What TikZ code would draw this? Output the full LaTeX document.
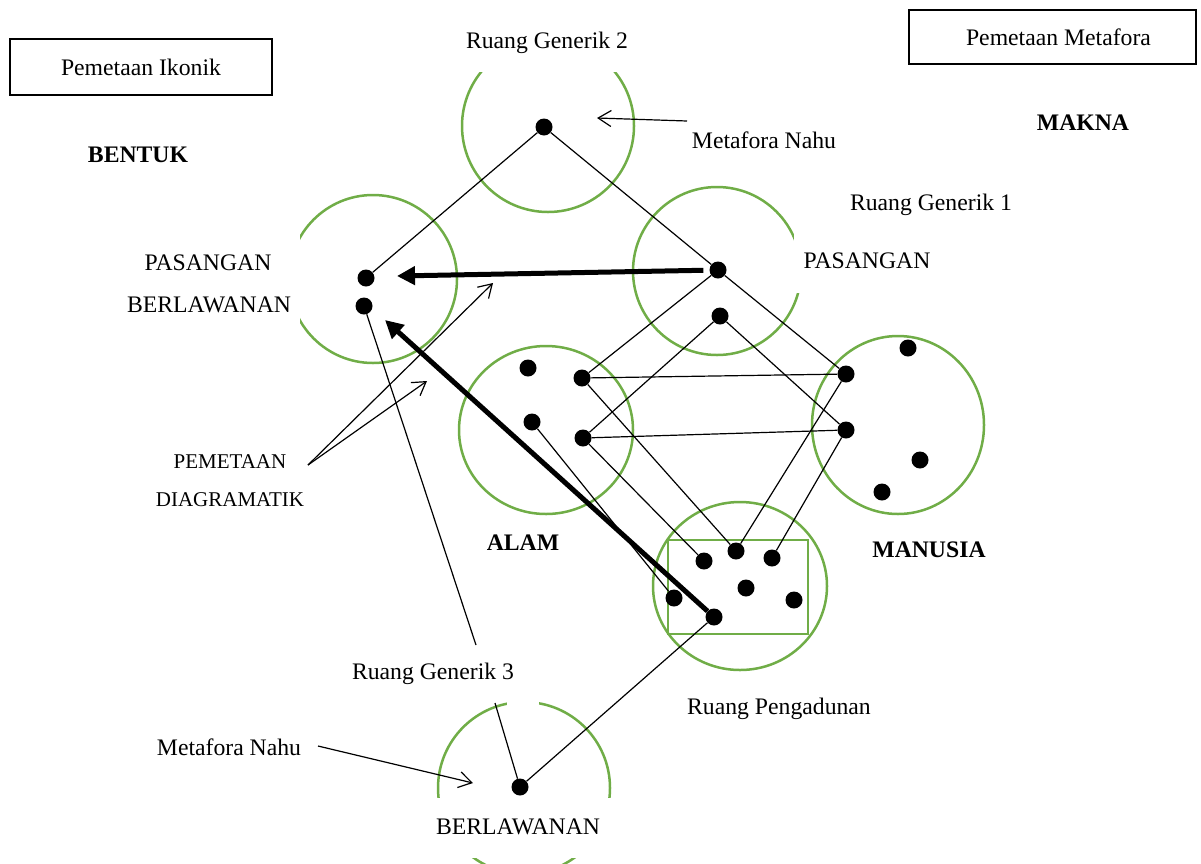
\documentclass[tikz,border=0pt]{standalone}
\usepackage{fontspec}
\setmainfont{Liberation Serif}
\usetikzlibrary{arrows.meta}
\definecolor{ringgreen}{HTML}{70AD47}
\begin{document}
\begin{tikzpicture}[x=1pt,y=-1pt,
  every node/.style={font=\fontsize{23.7}{28}\selectfont, inner sep=0pt},
  smalltxt/.style={font=\fontsize{21}{25}\selectfont},
  lbl/.style={anchor=base},
  boldlbl/.style={anchor=base, font=\fontsize{23.7}{28}\selectfont\bfseries},
  dot/.style={circle, fill=black, inner sep=0pt, minimum size=17pt},
  ring/.style={draw=ringgreen, line width=2.5pt},
  mask/.style={fill=white, draw=none},
  conn/.style={line width=1.2pt},
  bigarrow/.style={line width=5pt, -{Triangle[length=18pt,width=18pt]}},
  openarrow/.style={line width=1.2pt, -{Straight Barb[length=13pt,width=16pt]}},
  titlebox/.style={draw, line width=2pt}
]
\useasboundingbox (0,0) rectangle (1201,863);
\clip (0,0) rectangle (1201,863);

% green circles
\draw[ring] (548,126) circle (86);
\draw[ring] (373,279) circle (84);
\draw[ring] (717,271) circle (84);
\draw[ring] (546,430) ellipse (87 and 84);
\draw[ring] (898,425) ellipse (86 and 89);
\draw[ring] (740,586) ellipse (87 and 84);
\draw[ring] (668,540) rectangle (808,634);
\draw[ring] (524,788) circle (86);

% gaps in the circles
\fill[mask] (450,20) rectangle (650,72);
\fill[mask] (280,232) rectangle (300,333);
\fill[mask] (794,232) rectangle (812,293);
\fill[mask] (420,798) rectangle (630,858);
\fill[mask] (507,690) rectangle (539,712);

% dots
\node[dot] (g2) at (544,127) {};
\node[dot] (pb1) at (366,278) {};
\node[dot] (pb2) at (364,306) {};
\node[dot] (p1a) at (718,270) {};
\node[dot] (p1b) at (720,316) {};
\node[dot] (a1) at (528,368) {};
\node[dot] (a2) at (582,378) {};
\node[dot] (a3) at (532,422) {};
\node[dot] (a4) at (583,438) {};
\node[dot] (m1) at (846,374) {};
\node[dot] (m2) at (846,430) {};
\node[dot] (m3) at (908,348) {};
\node[dot] (m4) at (920,460) {};
\node[dot] (m5) at (882,492) {};
\node[dot] (x1) at (704,561) {};
\node[dot] (x2) at (736,551) {};
\node[dot] (x3) at (772,558) {};
\node[dot] (x4) at (746,588) {};
\node[dot] (x5) at (794,600) {};
\node[dot] (x6) at (674,598) {};
\node[dot] (x7) at (714,617) {};
\node[dot] (b1) at (520,787) {};

\coordinate (bt) at (495,703);
\coordinate (rg3) at (476,645);

% thin connectors
\draw[conn] (g2) -- (pb1);
\draw[conn] (g2) -- (p1a);
\draw[conn] (p1a) -- (m1);
\draw[conn] (p1a) -- (a2);
\draw[conn] (p1b) -- (a4);
\draw[conn] (p1b) -- (m2);
\draw[conn] (a2) -- (m1);
\draw[conn] (a4) -- (m2);
\draw[conn] (a2) -- (x2);
\draw[conn] (a4) -- (x1);
\draw[conn] (a3) -- (x6);
\draw[conn] (m1) -- (x2);
\draw[conn] (m2) -- (x3);
\draw[conn] (x7) -- (b1);
\draw[conn] (b1) -- (bt);
\draw[conn] (pb2) -- (rg3);

% thick arrows
\coordinate (t1) at (397,276);
\coordinate (t2) at (385,320);
\draw[bigarrow, shorten <=6pt] (p1a) -- (t1);
\draw[bigarrow] (x7) -- (t2);

% open arrows
\coordinate (mn1s) at (687,121);
\coordinate (mn1t) at (597,118);
\draw[openarrow] (mn1s) -- (mn1t);
\coordinate (pd) at (308,465);
\coordinate (pdt1) at (493,283);
\coordinate (pdt2) at (427,381);
\draw[openarrow] (pd) -- (pdt1);
\draw[openarrow] (pd) -- (pdt2);
\coordinate (mn2s) at (318,746);
\coordinate (mn2t) at (473,783);
\draw[openarrow] (mn2s) -- (mn2t);

% boxes
\node[titlebox, minimum width=262pt, minimum height=56pt] (ikonik) at (141,67) {Pemetaan Ikonik};
\node[titlebox, minimum width=287pt, minimum height=54pt] (metafora) at (1052.5,37) {\hspace*{12pt}Pemetaan Metafora};

% labels
\node[lbl] (rg2) at (547,48) {Ruang Generik 2};
\node[lbl] (mnt) at (764,148) {Metafora Nahu};
\node[boldlbl] (makna) at (1083,130) {MAKNA};
\node[boldlbl] (bentuk) at (138,162) {BENTUK};
\node[lbl] (rg1) at (931,210) {Ruang Generik 1};
\node[lbl] (pas) at (867,268) {PASANGAN};
\node[lbl] (pbl1) at (208,270) {PASANGAN};
\node[lbl] (pbl2) at (209,312) {BERLAWANAN};
\node[lbl, smalltxt] (pem) at (230,468) {PEMETAAN};
\node[lbl, smalltxt] (diag) at (230,506) {DIAGRAMATIK};
\node[boldlbl] (alam) at (523,550) {ALAM};
\node[boldlbl] (manusia) at (929,557) {MANUSIA};
\node[lbl] (rg3l) at (433,679) {Ruang Generik 3};
\node[lbl] (rp) at (779,714) {Ruang Pengadunan};
\node[lbl] (mnb) at (229,755) {Metafora Nahu};
\node[lbl] (berl) at (518,834) {BERLAWANAN};
\end{tikzpicture}
\end{document}
